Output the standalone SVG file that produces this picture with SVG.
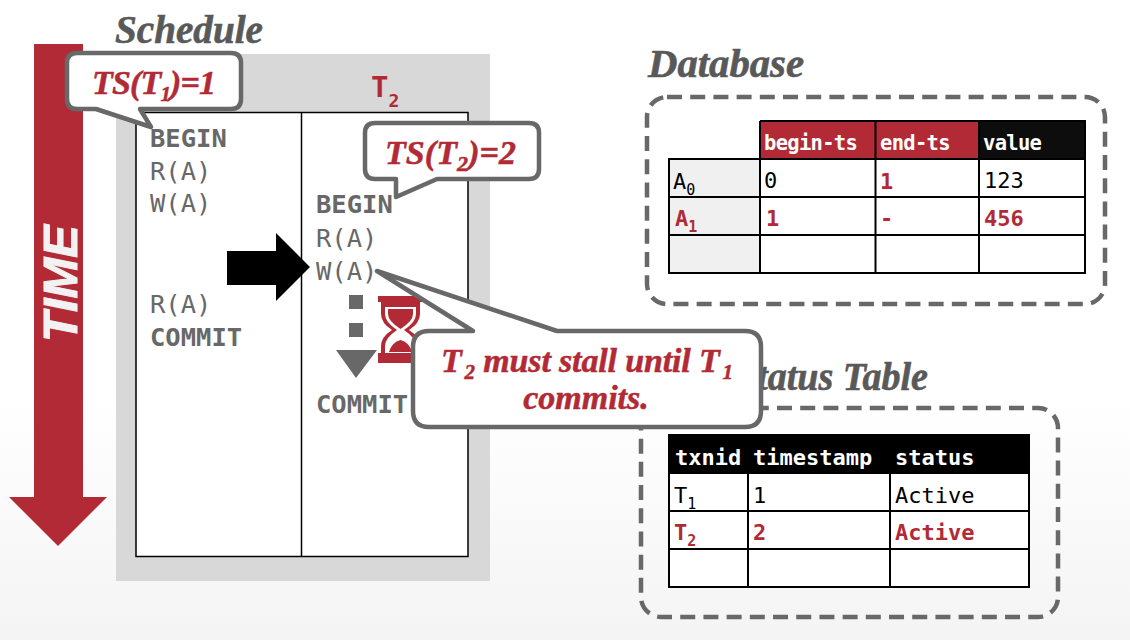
<svg xmlns="http://www.w3.org/2000/svg" width="1130" height="640" viewBox="0 0 1130 640">
<defs>
<linearGradient id="page" x1="0" y1="0" x2="0" y2="1">
<stop offset="0" stop-color="#ffffff"/><stop offset="0.62" stop-color="#ffffff"/><stop offset="1" stop-color="#f4f4f4"/>
</linearGradient>
</defs>
<style>
.title{font-family:"Liberation Serif",serif;font-weight:700;font-style:italic;font-size:40px;fill:#595959;stroke:#595959;stroke-width:.6}
.sched{font-family:"DejaVu Sans Mono",monospace;font-size:25.5px;fill:#686868}
.b{font-weight:700}
.call{font-family:"Liberation Serif",serif;font-weight:700;font-style:italic;font-size:34px;fill:#b22a35;stroke:#b22a35;stroke-width:.5}
.bubble{fill:#fff;stroke:#686868;stroke-width:4.5;stroke-linejoin:round}
.dash{fill:none;stroke:#686868;stroke-width:4.5;stroke-dasharray:15 8.2}
.cell{font-family:"DejaVu Sans Mono",monospace;font-size:22px;fill:#000}
.head{font-size:20.5px;letter-spacing:-.7px}
.red{fill:#b22a35}
.wh{fill:#fff}
.grid{fill:none;stroke:#000;stroke-width:2}
</style>
<rect width="1130" height="640" fill="url(#page)"/>

<g id="time-arrow">
<polygon points="34,44 83,44 83,497 107,497 58,546 9,497 34,497" fill="#b22a35"/>
<text transform="translate(77,342) rotate(-90)" font-family="Liberation Sans, sans-serif" font-weight="700" font-style="italic" font-size="48" fill="#f2f2f2" stroke="#f2f2f2" stroke-width="1" textLength="117" lengthAdjust="spacingAndGlyphs">TIME</text>
</g>

<g id="schedule">
<text class="title" x="115" y="43" textLength="148" lengthAdjust="spacingAndGlyphs">Schedule</text>
<rect x="116" y="54" width="374" height="527" fill="#d8d8d8"/>
<rect x="136" y="112.500" width="332" height="444" fill="#fff" stroke="#000" stroke-width="1.500"/>
<line x1="301.500" y1="112" x2="301.500" y2="556" stroke="#000" stroke-width="1.500"/>
<text x="371" y="97" font-family="DejaVu Sans Mono, monospace" font-size="29" font-weight="700" fill="#b22a35">T<tspan dx="0" dy="10" font-size="18">2</tspan></text>
</g>

<g id="t1-ops">
<text class="sched b" x="150" y="147">BEGIN</text>
<text class="sched" x="150" y="180">R(A)</text>
<text class="sched" x="150" y="212">W(A)</text>
<text class="sched" x="150" y="313">R(A)</text>
<text class="sched b" x="150" y="346">COMMIT</text>
</g>

<g id="t2-ops">
<text class="sched b" x="316" y="213">BEGIN</text>
<text class="sched" x="316" y="247">R(A)</text>
<text class="sched" x="316" y="280">W(A)</text>
<text class="sched b" x="316" y="413">COMMIT</text>
</g>

<g id="connectors">
<polygon points="227,251 276,251 276,233 310,267 276,301 276,285 227,285" fill="#000"/>
<rect x="349" y="295" width="14" height="14" fill="#686868"/>
<rect x="349" y="323" width="14" height="14" fill="#686868"/>
<polygon points="336,350 377,350 356,378" fill="#686868"/>
</g>

<g id="hourglass">
<rect x="378" y="296" width="45" height="6" fill="#b22a35"/>
<rect x="378" y="353" width="45" height="10" fill="#b22a35"/>
<!-- glass body, white interior, then the two heaps of sand -->
<path d="M381 302H420V314Q420 323 409 330Q420 337 420 346V353H381V346Q381 337 392 330Q381 323 381 314Z" fill="#b22a35"/>
<path d="M385 307H416V314Q416 322 404 330Q416 338 416 346V353H385V346Q385 338 397 330Q385 322 385 314Z" fill="#fff"/>
<path d="M388 309H413V314Q413 321 400.500 329Q388 321 388 314Z" fill="#b22a35"/>
<path d="M389 352Q392 342 400.500 340Q409 342 412 352Z" fill="#b22a35"/>
</g>

<g id="database">
<text class="title" x="648" y="77" textLength="156" lengthAdjust="spacingAndGlyphs">Database</text>
<rect class="dash" x="647" y="97" width="458" height="207" rx="20"/>
<rect x="669" y="159" width="91" height="114" fill="#f0f0f0"/>
<rect x="760" y="159" width="325" height="114" fill="#fff"/>
<rect x="760" y="121" width="219" height="38" fill="#b22a35"/>
<rect x="979" y="121" width="106" height="38" fill="#0d0d0d"/>
<path class="grid" d="M760 121H1085V273H669V159H1085M669 197H1085M669 235H1085M760 121V273M875.500 121V273M979 121V273"/>
<text class="cell head b wh" x="764" y="150">begin-ts</text>
<text class="cell head b wh" x="880" y="150">end-ts</text>
<text class="cell head b wh" x="983" y="150">value</text>
<text class="cell" x="673" y="189">A<tspan dy="6" style="font-size:15px">0</tspan></text>
<text class="cell" x="764" y="188">0</text>
<text class="cell b red" x="880" y="189">1</text>
<text class="cell" x="984" y="188">123</text>
<text class="cell b red" x="675" y="226">A<tspan dy="6" style="font-size:15px">1</tspan></text>
<text class="cell b red" x="766" y="226">1</text>
<text class="cell b red" x="880" y="226">-</text>
<text class="cell b red" x="984" y="226">456</text>
</g>

<g id="status-table">
<text class="title" x="736" y="390" textLength="192" lengthAdjust="spacingAndGlyphs">Status Table</text>
<rect class="dash" x="641" y="408" width="417" height="209" rx="20"/>
<rect x="669" y="435" width="360" height="38" fill="#000"/>
<rect x="669" y="473" width="360" height="114" fill="#fff"/>
<path class="grid" d="M669 435H1029V587H669ZM669 473H1029M669 511H1029M669 549H1029M748 435V587M890 435V587"/>
<text class="cell b wh" x="675" y="465">txnid</text>
<text class="cell b wh" x="753" y="465">timestamp</text>
<text class="cell b wh" x="895" y="465">status</text>
<text class="cell" x="674" y="503">T<tspan dy="6" style="font-size:15px">1</tspan></text>
<text class="cell" x="753" y="503">1</text>
<text class="cell" x="895" y="503">Active</text>
<text class="cell b red" x="674" y="540">T<tspan dy="6" style="font-size:15px">2</tspan></text>
<text class="cell b red" x="753" y="540">2</text>
<text class="cell b red" x="895" y="540">Active</text>
</g>

<g id="callout-ts1">
<path class="bubble" d="M77 53H231Q241 53 241 63V99Q241 109 231 109H140L151 127L96 109H77Q67 109 67 99V63Q67 53 77 53Z"/>
<text class="call" x="92" y="94" textLength="124">TS(T<tspan dy="7" style="font-size:21px">1</tspan><tspan dy="-7">)=1</tspan></text>
</g>

<g id="callout-ts2">
<path class="bubble" d="M375 123H529Q539 123 539 133V169Q539 179 529 179H437L396 197V179H375Q365 179 365 169V133Q365 123 375 123Z"/>
<text class="call" x="385" y="164" textLength="131">TS(T<tspan dy="7" style="font-size:22px">2</tspan><tspan dy="-7">)=2</tspan></text>
</g>

<g id="callout-stall">
<path class="bubble" d="M429 331H473L377 271L557 331H745Q761 331 761 347V411Q761 427 745 427H429Q413 427 413 411V347Q413 331 429 331Z"/>
<text class="call" x="441" y="372" textLength="292">T<tspan dx="3" dy="7" style="font-size:21px">2</tspan><tspan dy="-7"> must stall until T</tspan><tspan dx="3" dy="7" style="font-size:21px">1</tspan></text>
<text class="call" x="586" y="409" text-anchor="middle">commits.</text>
</g>
</svg>
